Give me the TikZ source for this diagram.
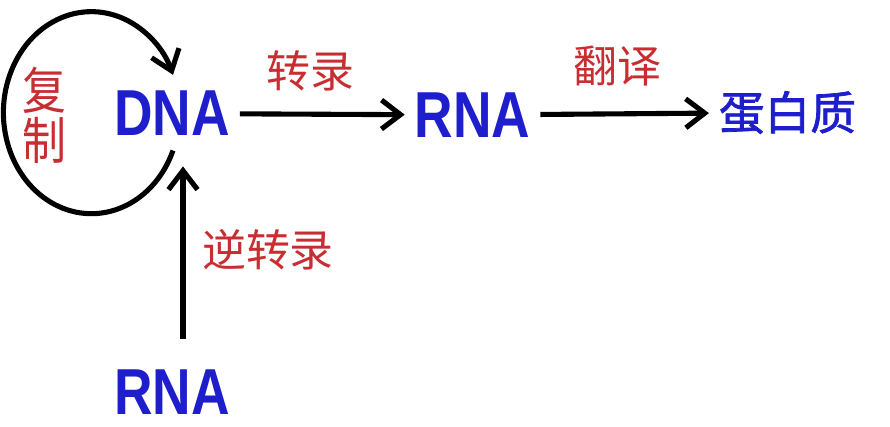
\documentclass[tikz,border=0pt]{standalone}
\usepackage{fontspec}
\setmainfont{Liberation Sans}
\newfontfamily\cjk{Noto Sans CJK SC}
\newfontfamily\cjkbold[FakeBold=1.6]{Noto Sans CJK SC}
\usepackage{xcolor}
\usetikzlibrary{positioning,arrows.meta}
\definecolor{molblue}{RGB}{30,30,205}
\definecolor{procred}{RGB}{200,45,50}

\begin{document}
\begin{tikzpicture}[>={Straight Barb[length=0.38cm, width=0.58cm]}, line width=2.9pt,
  mol/.style={inner sep=0.15cm, text=molblue, font=\fontsize{37}{40}\selectfont\bfseries},
  prot/.style={inner sep=0.15cm, text=molblue, font=\fontsize{26}{30}\selectfont\cjkbold},
  proc/.style={inner sep=0pt, text=procred, font=\fontsize{25}{30}\selectfont\cjk, align=center}]
\useasboundingbox (0,0) rectangle (17.8,-8.54);
\node[mol] (dna) at (3.44,-2.27) {\scalebox{0.82}[1]{DNA}};
\node[mol] (rna) at (9.45,-2.30) {\scalebox{0.82}[1]{RNA}};
\node[prot] (protein) at (15.75,-2.25) {蛋白质};
\node[mol] (rnab) at (3.44,-7.84) {\scalebox{0.82}[1]{RNA}};
\node[proc] (transcr) at (6.20,-1.42) {转录};
\node[proc] (transl) at (12.34,-1.32) {翻译};
\node[proc] (revtr) at (5.36,-5.00) {逆转录};
\node[proc] (repl) at (0.88,-2.30) {\scalebox{1}[1.15]{复}\\[-0.05cm]\scalebox{1}[1.15]{制}};
\draw[->] (dna) -- (rna);
\draw[->] (rna) -- (protein);
\draw[->] ([xshift=0.22cm, yshift=0.42cm]rnab.north) -- ([xshift=0.22cm, yshift=-0.41cm]dna.south);
% replication loop
\coordinate (loopout) at ([xshift=0.02cm, yshift=-0.74cm]dna.center);
\draw[->] (loopout) arc[start angle=-22, end angle=-338, x radius=1.76cm, y radius=2.02cm];
\end{tikzpicture}
\end{document}
